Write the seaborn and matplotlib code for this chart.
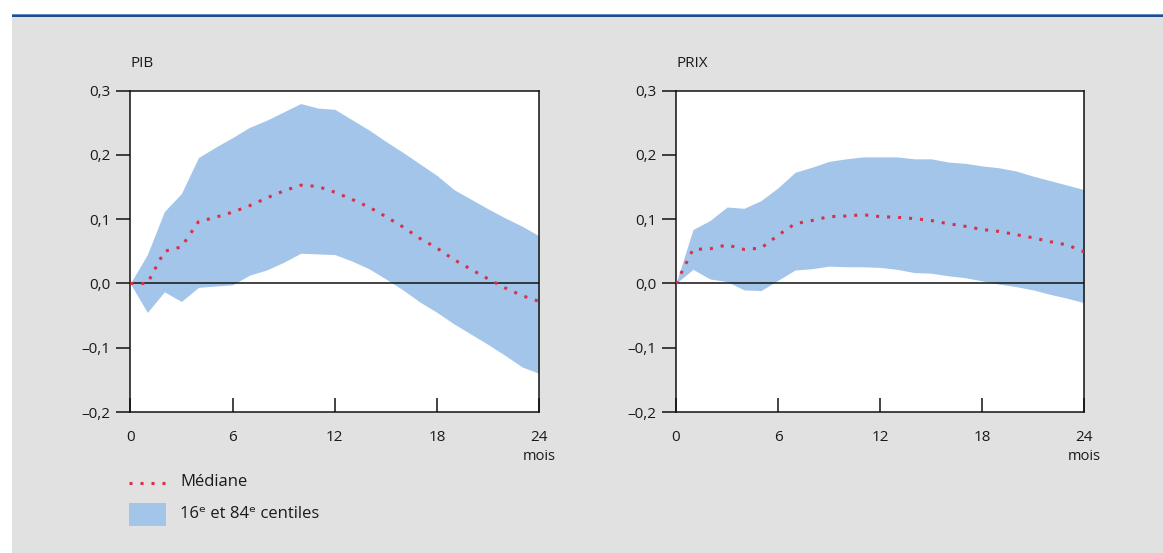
import numpy as np
import pandas as pd
import matplotlib
matplotlib.use("Agg")
import matplotlib.pyplot as plt
from matplotlib.patches import Rectangle
from matplotlib.lines import Line2D
import seaborn as sns

# ---- data ----
months = list(range(25))

pib_median = [0.000, 0.000, 0.050, 0.057, 0.096, 0.103, 0.111, 0.121, 0.133, 0.144,
              0.153, 0.151, 0.142, 0.131, 0.119, 0.104, 0.088, 0.070, 0.055, 0.037,
              0.022, 0.007, -0.007, -0.019, -0.028]
pib_upper = [0.000, 0.045, 0.112, 0.140, 0.196, 0.212, 0.227, 0.243, 0.254, 0.267,
             0.280, 0.273, 0.271, 0.255, 0.239, 0.221, 0.204, 0.186, 0.168, 0.146,
             0.131, 0.116, 0.102, 0.089, 0.074]
pib_lower = [0.000, -0.045, -0.013, -0.028, -0.006, -0.004, -0.002, 0.013, 0.021, 0.033,
             0.047, 0.046, 0.045, 0.035, 0.023, 0.007, -0.010, -0.029, -0.045, -0.063,
             -0.079, -0.095, -0.112, -0.130, -0.140]

prix_median = [0.000, 0.053, 0.054, 0.060, 0.053, 0.055, 0.075, 0.093, 0.098, 0.104,
               0.105, 0.107, 0.104, 0.103, 0.101, 0.098, 0.093, 0.089, 0.084, 0.081,
               0.076, 0.071, 0.065, 0.060, 0.049]
prix_upper = [0.000, 0.084, 0.098, 0.119, 0.117, 0.129, 0.149, 0.173, 0.181, 0.190,
              0.194, 0.197, 0.197, 0.197, 0.194, 0.194, 0.189, 0.187, 0.183, 0.180,
              0.175, 0.167, 0.160, 0.153, 0.146]
prix_lower = [0.000, 0.022, 0.007, 0.003, -0.010, -0.011, 0.005, 0.021, 0.023, 0.027,
              0.026, 0.026, 0.025, 0.022, 0.017, 0.016, 0.012, 0.009, 0.004, -0.001,
              -0.005, -0.010, -0.017, -0.023, -0.030]

panel_titles = ["PIB", "PRIX"]
x_ticks = [0, 6, 12, 18, 24]
y_ticks = [-0.2, -0.1, 0.0, 0.1, 0.2, 0.3]
y_tick_labels = ["\u20130,2", "\u20130,1", "0,0", "0,1", "0,2", "0,3"]
legend_labels = ["Médiane", "16\u1d49 et 84\u1d49 centiles"]

# ---- style ----
sns.set_theme(style="white")
plt.rcParams["font.family"] = ["Open Sans", "DejaVu Sans"]
TXT = "#1a1a1a"
BAND = "#a3c5e9"
RED = "#d9304a"
BG = "#e1e1e1"

W, H = 1163, 553
fig = plt.figure(figsize=(W / 100, H / 100), dpi=100, facecolor="white")

# gray panel background + top rule
fig.patches.append(Rectangle((12 / W, 0), 1 - 12 / W, 1 - 17 / H,
                             transform=fig.transFigure, facecolor=BG,
                             edgecolor="none", zorder=-10))
fig.patches.append(Rectangle((12 / W, 1 - 17 / H), 1 - 12 / W, 2.3 / H,
                             transform=fig.transFigure, facecolor="#1f4e8c",
                             edgecolor="none", zorder=-9))
fig.patches.append(Rectangle((12 / W, 1 - 14.7 / H), 1 - 12 / W, 0.8 / H,
                             transform=fig.transFigure, facecolor="#5b8cc7",
                             edgecolor="none", zorder=-9))

ax_bottom = 1 - 412 / H
ax_height = (412 - 90.7) / H
axes_specs = [(130.3 / W, 409 / W), (676 / W, 408.3 / W)]

datasets = [(pib_median, pib_lower, pib_upper), (prix_median, prix_lower, prix_upper)]

for (x0, w), title, (med, lo, up) in zip(axes_specs, panel_titles, datasets):
    ax = fig.add_axes([x0, ax_bottom, w, ax_height])
    ax.set_facecolor("white")
    ax.fill_between(months, lo, up, color=BAND, linewidth=0, zorder=1)
    ax.axhline(0, color="#111111", linewidth=1.1, zorder=2)
    df = pd.DataFrame({"mois": months, "val": med})
    sns.lineplot(data=df, x="mois", y="val", ax=ax, color=RED,
                 linestyle=(0, (1, 2.6)), linewidth=2.2, zorder=3)
    ax.set_xlim(0, 24)
    ax.set_ylim(-0.2, 0.3)
    ax.set_xlabel("")
    ax.set_ylabel("")
    ax.set_yticks(y_ticks)
    ax.set_yticklabels(y_tick_labels)
    ax.set_xticks(x_ticks)
    ax.set_xticklabels([str(t) for t in x_ticks])
    ax.tick_params(axis="y", direction="out", length=10, width=1.1,
                   color="#111111", labelsize=11, labelcolor=TXT, pad=4, left=True)
    ax.tick_params(axis="x", direction="in", length=10, width=1.1,
                   color="#111111", labelsize=11, labelcolor=TXT, pad=13, bottom=True)
    for s in ax.spines.values():
        s.set_color("#111111")
        s.set_linewidth(1.1)
        s.set_visible(True)
    ax.text(0.0, 1.085, title, transform=ax.transAxes, ha="left", va="center",
            fontsize=11, color=TXT)
    ax.text(1.0, -0.14, "mois", transform=ax.transAxes, ha="center", va="center",
            fontsize=10.5, color=TXT)

# legend
fig.add_artist(Line2D([129 / W, 166 / W], [1 - 483 / H, 1 - 483 / H],
                      transform=fig.transFigure, color=RED,
                      linestyle=(0, (1, 2.6)), linewidth=2.2))
fig.text(180 / W, 1 - 482 / H, legend_labels[0], ha="left", va="center",
         fontsize=12, color=TXT)
fig.patches.append(Rectangle((129 / W, 1 - 526 / H), 37 / W, 23 / H,
                             transform=fig.transFigure, facecolor=BAND,
                             edgecolor="none"))
fig.text(180 / W, 1 - 514 / H, legend_labels[1], ha="left", va="center",
         fontsize=12, color=TXT)

fig.savefig("out.png", dpi=100, facecolor=fig.get_facecolor())
